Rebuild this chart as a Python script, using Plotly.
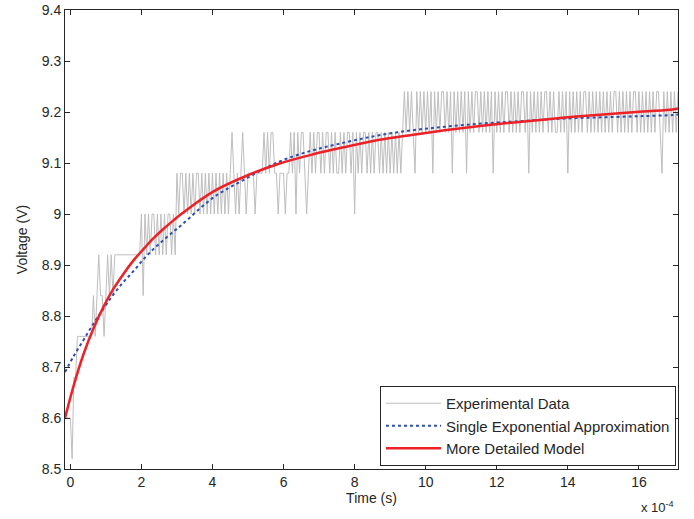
import plotly.graph_objects as go

# ---- Experimental data (quantized ADC levels), sampled every 0.05e-4 s from -0.15e-4 s ----
LEVELS = [8.52, 8.60, 8.68, 8.76, 8.84, 8.92, 9.00, 9.08, 9.16, 9.24]
EXP_CODES = [
    "111",                   # t -0.15 .. -0.05
    "10223333333334345443",  # 0
    "45454555555555555555",  # 1
    "64656566565656566565",  # 2
    "76776767676776767676",  # 3
    "76767676767876767876",  # 4
    "77776777787878877677",  # 5
    "76778786878876787878",  # 6
    "87878878787787878878",  # 7
    "68787887878788787878",  # 8
    "78787878989898798989",  # 9
    "89897989899898979898",  # 10
    "98979898998989898979",  # 11
    "89898998989898998979",  # 12
    "89898989989898898989",  # 13
    "79898989899898989898",  # 14
    "98989899898989898998",  # 15
    "98989898989987989898",  # 16
    "989",                   # 17.00 .. 17.10
]
T_START = -0.15
T_STEP = 0.05

# ---- Model curves, time in units of 1e-4 s ----
RED_T = [-0.15, 0.10, 0.38, 0.66, 0.94, 1.22, 1.50, 1.79, 2.07, 2.35, 2.64, 2.91, 3.14,
         4.02, 4.96, 5.89, 6.83, 7.77, 8.66, 9.60, 10.53, 11.47, 12.41, 13.30, 14.24,
         15.18, 16.11, 16.95, 17.10]
RED_V = [8.600, 8.665, 8.727, 8.777, 8.819, 8.854, 8.883, 8.910, 8.932, 8.953, 8.972, 8.988, 9.001,
         9.044, 9.075, 9.099, 9.117, 9.132, 9.145, 9.155, 9.164, 9.172, 9.179, 9.185, 9.191,
         9.196, 9.201, 9.205, 9.207]

BLUE_T = [-0.15, 0.10, 0.38, 0.66, 0.94, 1.22, 1.50, 1.79, 2.07, 2.35, 2.64, 2.91, 3.14,
          4.02, 4.96, 5.89, 6.83, 7.77, 8.66, 9.60, 10.53, 11.47, 12.41, 13.30, 14.24,
          15.18, 16.11, 16.95, 17.10]
BLUE_V = [8.690, 8.722, 8.754, 8.786, 8.815, 8.843, 8.867, 8.889, 8.912, 8.932, 8.950, 8.966, 8.979,
          9.032, 9.070, 9.103, 9.125, 9.141, 9.154, 9.164, 9.171, 9.177, 9.181, 9.185, 9.188,
          9.190, 9.192, 9.194, 9.195]

X_TICKS = [0, 2, 4, 6, 8, 10, 12, 14, 16]
Y_TICKS = [8.5, 8.6, 8.7, 8.8, 8.9, 9.0, 9.1, 9.2, 9.3, 9.4]
Y_TICK_TEXT = ["8.5", "8.6", "8.7", "8.8", "8.9", "9", "9.1", "9.2", "9.3", "9.4"]

codes = "".join(EXP_CODES)
exp_v = [LEVELS[int(c)] for c in codes]
exp_t = [T_START + T_STEP * i for i in range(len(exp_v))]

FONT = "Liberation Sans, Arial, sans-serif"
INK = "#262626"

fig = go.Figure()
fig.add_trace(go.Scatter(x=exp_t, y=exp_v, mode="lines", name="Experimental Data",
                         line=dict(color="#bebebe", width=1)))
fig.add_trace(go.Scatter(x=BLUE_T, y=BLUE_V, mode="lines", name="Single Exponential Approximation",
                         line=dict(color="#2f4fb0", width=2, dash="dot", shape="spline")))
fig.add_trace(go.Scatter(x=RED_T, y=RED_V, mode="lines", name="More Detailed Model",
                         line=dict(color="#ee2127", width=2.5, shape="spline")))

axis_common = dict(showline=True, linecolor=INK, linewidth=1, mirror="ticks",
                   ticks="inside", ticklen=5, tickcolor=INK, showgrid=False,
                   zeroline=False, automargin=False,
                   tickfont=dict(family=FONT, size=14, color=INK))

fig.update_layout(
    width=694, height=519,
    margin=dict(l=65, r=16, t=10, b=50),
    paper_bgcolor="white", plot_bgcolor="white",
    font=dict(family=FONT, size=14, color=INK),
    xaxis=dict(range=[-0.15, 17.1], tickvals=X_TICKS,
               title=dict(text="Time (s)", font=dict(family=FONT, size=14, color=INK), standoff=2),
               **axis_common),
    yaxis=dict(range=[8.5, 9.4], tickvals=Y_TICKS, ticktext=Y_TICK_TEXT,
               title=dict(text="Voltage (V)", font=dict(family=FONT, size=14, color=INK), standoff=10),
               **axis_common),
    legend=dict(x=0.9967, y=0.0065, xanchor="right", yanchor="bottom",
                bgcolor="white", bordercolor=INK, borderwidth=1,
                font=dict(family=FONT, size=15, color=INK),
                itemwidth=55, tracegroupgap=0),
    showlegend=True,
)
fig.add_annotation(x=0.997, y=-0.06, xref="paper", yref="paper", xanchor="right", yanchor="top",
                   text="x 10<sup>-4</sup>", showarrow=False,
                   font=dict(family=FONT, size=13, color=INK))

fig.write_html("out.html", config={"displayModeBar": False},
               post_script="document.body.style.margin='0px';")
